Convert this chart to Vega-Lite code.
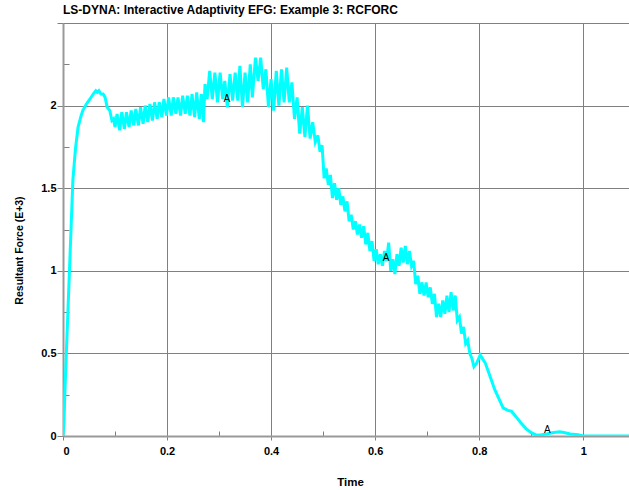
{
  "$schema": "https://vega.github.io/schema/vega-lite/v6.json",
  "width": 566,
  "height": 413,
  "autosize": {"type": "none"},
  "padding": {"left": 63, "top": 23, "right": 0, "bottom": 54},
  "background": "white",
  "title": {"text": "LS-DYNA: Interactive Adaptivity EFG: Example 3: RCFORC", "anchor": "start", "frame": "group", "font": "Liberation Sans", "fontSize": 12, "fontWeight": "bold", "color": "black", "offset": 6},
  "config": {
    "view": {"stroke": null},
    "axis": {
      "labelFont": "Liberation Sans", "labelFontSize": 11, "labelFontWeight": "bold", "labelColor": "black",
      "titleFont": "Liberation Sans", "titleFontSize": 12, "titleFontWeight": "bold", "titleColor": "black",
      "domainColor": "#999999", "domainWidth": 2, "tickColor": "#808080", "tickWidth": 1,
      "gridColor": "#808080", "gridWidth": 1
    }
  },
  "layer": [
    {
      "data": {"values": [
        {"t": 0, "f": 0}, {"t": 0.002, "f": 0.1}, {"t": 0.004, "f": 0.3}, {"t": 0.007, "f": 0.55}, {"t": 0.010, "f": 0.8},
        {"t": 0.013, "f": 1.05}, {"t": 0.016, "f": 1.3}, {"t": 0.019, "f": 1.55}, {"t": 0.024, "f": 1.74}, {"t": 0.029, "f": 1.87},
        {"t": 0.034, "f": 1.93}, {"t": 0.038, "f": 1.97}, {"t": 0.045, "f": 2.01}, {"t": 0.052, "f": 2.04}, {"t": 0.058, "f": 2.07},
        {"t": 0.063, "f": 2.09}, {"t": 0.066, "f": 2.08}, {"t": 0.069, "f": 2.09}, {"t": 0.073, "f": 2.07}, {"t": 0.077, "f": 2.07},
        {"t": 0.081, "f": 2.05}, {"t": 0.085, "f": 1.99}, {"t": 0.09, "f": 1.97}, {"t": 0.094, "f": 1.91}, {"t": 0.097, "f": 1.92},
        {"t": 0.100, "f": 1.87}, {"t": 0.104, "f": 1.95}, {"t": 0.109, "f": 1.85}, {"t": 0.113, "f": 1.96}, {"t": 0.118, "f": 1.86},
        {"t": 0.122, "f": 1.96}, {"t": 0.127, "f": 1.87}, {"t": 0.131, "f": 1.97}, {"t": 0.136, "f": 1.88}, {"t": 0.140, "f": 1.98},
        {"t": 0.145, "f": 1.88}, {"t": 0.149, "f": 1.99}, {"t": 0.154, "f": 1.89}, {"t": 0.158, "f": 2.00}, {"t": 0.163, "f": 1.90},
        {"t": 0.167, "f": 2.01}, {"t": 0.172, "f": 1.91}, {"t": 0.176, "f": 2.02}, {"t": 0.181, "f": 1.92}, {"t": 0.185, "f": 2.02},
        {"t": 0.190, "f": 1.93}, {"t": 0.194, "f": 2.04}, {"t": 0.199, "f": 1.94}, {"t": 0.203, "f": 2.05}, {"t": 0.208, "f": 1.94},
        {"t": 0.212, "f": 2.05}, {"t": 0.217, "f": 1.95}, {"t": 0.221, "f": 2.05}, {"t": 0.226, "f": 1.94}, {"t": 0.230, "f": 2.06},
        {"t": 0.235, "f": 1.95}, {"t": 0.239, "f": 2.06}, {"t": 0.244, "f": 1.94}, {"t": 0.248, "f": 2.07}, {"t": 0.253, "f": 1.93},
        {"t": 0.257, "f": 2.08}, {"t": 0.262, "f": 1.92}, {"t": 0.266, "f": 2.07}, {"t": 0.270, "f": 1.90}, {"t": 0.273, "f": 2.13},
        {"t": 0.277, "f": 2.04}, {"t": 0.282, "f": 2.21}, {"t": 0.287, "f": 2.04}, {"t": 0.292, "f": 2.20}, {"t": 0.297, "f": 2.02},
        {"t": 0.302, "f": 2.20}, {"t": 0.307, "f": 2.04}, {"t": 0.311, "f": 2.15}, {"t": 0.316, "f": 1.99}, {"t": 0.321, "f": 2.19},
        {"t": 0.326, "f": 2.03}, {"t": 0.331, "f": 2.20}, {"t": 0.336, "f": 2.03}, {"t": 0.340, "f": 2.24}, {"t": 0.345, "f": 1.99},
        {"t": 0.350, "f": 2.20}, {"t": 0.355, "f": 2.02}, {"t": 0.360, "f": 2.25}, {"t": 0.364, "f": 2.05}, {"t": 0.370, "f": 2.29},
        {"t": 0.375, "f": 2.15}, {"t": 0.380, "f": 2.29}, {"t": 0.385, "f": 2.10}, {"t": 0.390, "f": 2.22}, {"t": 0.395, "f": 1.99},
        {"t": 0.400, "f": 2.16}, {"t": 0.405, "f": 1.97}, {"t": 0.410, "f": 2.21}, {"t": 0.415, "f": 2.00}, {"t": 0.420, "f": 2.22},
        {"t": 0.425, "f": 2.02}, {"t": 0.430, "f": 2.23}, {"t": 0.435, "f": 2.02}, {"t": 0.440, "f": 2.14}, {"t": 0.445, "f": 1.92},
        {"t": 0.450, "f": 2.05}, {"t": 0.455, "f": 1.83}, {"t": 0.460, "f": 1.99}, {"t": 0.465, "f": 1.81}, {"t": 0.470, "f": 2.00},
        {"t": 0.475, "f": 1.80}, {"t": 0.480, "f": 1.90}, {"t": 0.485, "f": 1.78}, {"t": 0.490, "f": 1.82}, {"t": 0.494, "f": 1.72},
        {"t": 0.498, "f": 1.76}, {"t": 0.502, "f": 1.56}, {"t": 0.506, "f": 1.62}, {"t": 0.510, "f": 1.52}, {"t": 0.514, "f": 1.58},
        {"t": 0.518, "f": 1.44}, {"t": 0.522, "f": 1.53}, {"t": 0.526, "f": 1.43}, {"t": 0.530, "f": 1.50}, {"t": 0.534, "f": 1.40},
        {"t": 0.538, "f": 1.45}, {"t": 0.542, "f": 1.36}, {"t": 0.546, "f": 1.42}, {"t": 0.550, "f": 1.30}, {"t": 0.554, "f": 1.34},
        {"t": 0.558, "f": 1.25}, {"t": 0.562, "f": 1.30}, {"t": 0.566, "f": 1.22}, {"t": 0.570, "f": 1.28}, {"t": 0.574, "f": 1.20},
        {"t": 0.578, "f": 1.27}, {"t": 0.582, "f": 1.16}, {"t": 0.586, "f": 1.23}, {"t": 0.590, "f": 1.12}, {"t": 0.594, "f": 1.18},
        {"t": 0.598, "f": 1.06}, {"t": 0.602, "f": 1.13}, {"t": 0.606, "f": 1.04}, {"t": 0.610, "f": 1.10}, {"t": 0.614, "f": 1.03},
        {"t": 0.618, "f": 1.12}, {"t": 0.622, "f": 1.06}, {"t": 0.626, "f": 1.17}, {"t": 0.630, "f": 1.00}, {"t": 0.634, "f": 1.07},
        {"t": 0.638, "f": 0.98}, {"t": 0.642, "f": 1.10}, {"t": 0.646, "f": 1.03}, {"t": 0.650, "f": 1.14}, {"t": 0.654, "f": 1.05},
        {"t": 0.658, "f": 1.15}, {"t": 0.662, "f": 1.04}, {"t": 0.666, "f": 1.12}, {"t": 0.670, "f": 1.03}, {"t": 0.674, "f": 1.06},
        {"t": 0.678, "f": 0.92}, {"t": 0.682, "f": 0.97}, {"t": 0.686, "f": 0.86}, {"t": 0.690, "f": 0.93}, {"t": 0.694, "f": 0.85},
        {"t": 0.698, "f": 0.93}, {"t": 0.702, "f": 0.84}, {"t": 0.706, "f": 0.90}, {"t": 0.710, "f": 0.80}, {"t": 0.714, "f": 0.86},
        {"t": 0.718, "f": 0.72}, {"t": 0.722, "f": 0.80}, {"t": 0.726, "f": 0.72}, {"t": 0.730, "f": 0.82}, {"t": 0.734, "f": 0.74},
        {"t": 0.738, "f": 0.85}, {"t": 0.742, "f": 0.75}, {"t": 0.746, "f": 0.87}, {"t": 0.750, "f": 0.76}, {"t": 0.754, "f": 0.85},
        {"t": 0.758, "f": 0.70}, {"t": 0.762, "f": 0.72}, {"t": 0.766, "f": 0.62}, {"t": 0.770, "f": 0.66}, {"t": 0.774, "f": 0.56},
        {"t": 0.778, "f": 0.58}, {"t": 0.782, "f": 0.50}, {"t": 0.786, "f": 0.47}, {"t": 0.790, "f": 0.42}, {"t": 0.795, "f": 0.44},
        {"t": 0.802, "f": 0.49}, {"t": 0.806, "f": 0.47}, {"t": 0.812, "f": 0.44}, {"t": 0.821, "f": 0.36}, {"t": 0.830, "f": 0.28},
        {"t": 0.846, "f": 0.17}, {"t": 0.855, "f": 0.155}, {"t": 0.862, "f": 0.15}, {"t": 0.870, "f": 0.12}, {"t": 0.880, "f": 0.08},
        {"t": 0.890, "f": 0.045}, {"t": 0.900, "f": 0.02}, {"t": 0.910, "f": 0.005}, {"t": 0.920, "f": 0.008}, {"t": 0.930, "f": 0.012},
        {"t": 0.940, "f": 0.02}, {"t": 0.955, "f": 0.026}, {"t": 0.965, "f": 0.02}, {"t": 0.975, "f": 0.012}, {"t": 0.990, "f": 0.008},
        {"t": 1.0, "f": 0.0}, {"t": 1.09, "f": 0.0}
      ]},
      "mark": {"type": "line", "color": "#00ffff", "strokeWidth": 3, "clip": true},
      "encoding": {
        "x": {
          "field": "t", "type": "quantitative",
          "scale": {"domain": [0, 1.088], "nice": false, "zero": false},
          "axis": {
            "title": "Time", "titlePadding": 20, "titleFontSize": 11.5, "titleX": 287,
            "values": [0, 0.1, 0.2, 0.3, 0.4, 0.5, 0.6, 0.7, 0.8, 0.9, 1.0],
            "grid": true,
            "gridOpacity": {"condition": {"test": "round(datum.value*10)%2==1", "value": 0}, "value": 1},
            "tickSize": {"condition": {"test": "round(datum.value*10)%2==1", "value": -5}, "value": 4},
            "labelExpr": "round(datum.value*10)%2==1 ? '' : format(datum.value,'~g')",
            "labelPadding": 5
          }
        },
        "y": {
          "field": "f", "type": "quantitative",
          "scale": {"domain": [0, 2.5], "nice": false},
          "axis": {
            "title": "Resultant Force (E+3)", "titlePadding": 16, "titleFontSize": 10.5, "titleY": 227,
            "values": [0, 0.25, 0.5, 0.75, 1, 1.25, 1.5, 1.75, 2, 2.25, 2.5],
            "grid": true,
            "gridOpacity": {"condition": {"test": "round(datum.value*4)%2==1", "value": 0}, "value": 1},
            "tickSize": {"condition": {"test": "round(datum.value*4)%2==1", "value": -6}, "value": 6},
            "labelExpr": "round(datum.value*4)%2==1 || datum.value>2.4 ? '' : format(datum.value,'~g')",
            "labelPadding": 1
          }
        }
      }
    },
    {
      "data": {"values": [
        {"t": 0.315, "f": 2.04, "label": "A"},
        {"t": 0.621, "f": 1.08, "label": "A"},
        {"t": 0.931, "f": 0.036, "label": "A"}
      ]},
      "mark": {"type": "text", "font": "Liberation Sans", "fontSize": 10, "color": "black", "align": "center", "baseline": "middle"},
      "encoding": {
        "x": {"field": "t", "type": "quantitative"},
        "y": {"field": "f", "type": "quantitative"},
        "text": {"field": "label"}
      }
    }
  ]
}
